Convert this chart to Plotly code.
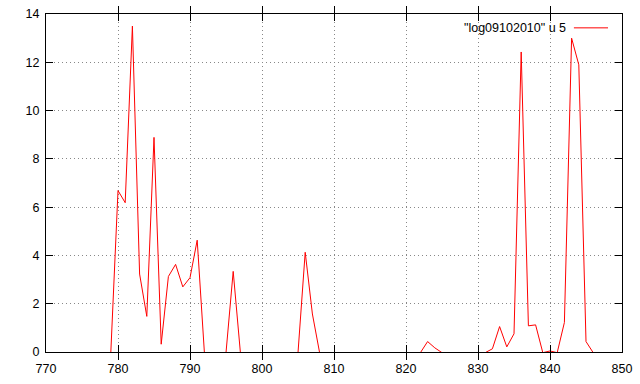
import plotly.graph_objects as go

x_values = list(range(770, 851))
nonzero = {
    779: 0.0, 780: 6.7, 781: 6.2, 782: 13.5, 783: 3.25, 784: 1.5, 785: 8.9,
    786: 0.35, 787: 3.15, 788: 3.65, 789: 2.72, 790: 3.1, 791: 4.65, 792: 0.0,
    795: 0.0, 796: 3.36, 797: 0.0,
    805: 0.0, 806: 4.15, 807: 1.6, 808: 0.0,
    822: 0.0, 823: 0.46, 824: 0.2, 825: 0.0,
    831: 0.0, 832: 0.16, 833: 1.08, 834: 0.24, 835: 0.78, 836: 12.43,
    837: 1.11, 838: 1.15, 839: 0.0, 840: 0.07, 841: 0.0, 842: 1.25,
    843: 13.0, 844: 11.9, 845: 0.46, 846: 0.0,
}
y_values = [nonzero.get(v, 0.0) for v in x_values]
series_name = '"log09102010" u 5'
x_ticks = list(range(770, 851, 10))
y_ticks = list(range(0, 15, 2))

font = dict(family="Liberation Sans, Arial, sans-serif", size=12.5, color="black")

fig = go.Figure()
# empty trace keeps the main (visible) axes alive
fig.add_trace(go.Scatter(x=[None], y=[None], mode="lines", showlegend=False,
                         hoverinfo="skip"))
# data drawn on an invisible overlay axis shifted by half a pixel so the zero
# baseline sits under the black border (as in gnuplot)
fig.add_trace(go.Scatter(x=x_values, y=y_values, mode="lines", yaxis="y2",
                         line=dict(color="#ff0000", width=1),
                         name=series_name, showlegend=False, hoverinfo="skip"))

axis_common = dict(showline=True, linecolor="black", linewidth=1, mirror="allticks",
                   ticks="inside", ticklen=7, tickcolor="black", tickwidth=1,
                   showgrid=True, gridcolor="#888888", griddash="1px,3px", gridwidth=1,
                   zeroline=False, tickfont=font, layer="above traces", automargin=False)

fig.update_xaxes(range=[770, 850], tickvals=x_ticks, ticklabelstandoff=5, **axis_common)
fig.update_yaxes(range=[0, 14], tickvals=y_ticks, ticklabelstandoff=3, **axis_common)
fig.update_layout(yaxis2=dict(overlaying="y", range=[0.028, 14], visible=False,
                              showgrid=False, zeroline=False))

# legend (gnuplot style: text left, sample right)
fig.add_annotation(xref="paper", yref="paper", x=0.9061, y=0.959, text=series_name,
                   showarrow=False, xanchor="right", yanchor="middle", font=font)
fig.add_shape(type="line", xref="paper", yref="paper", x0=0.9165, x1=0.9757,
              y0=0.959, y1=0.959, line=dict(color="#ff0000", width=1))

fig.update_layout(width=640, height=384, margin=dict(l=46, r=17.5, t=14, b=32),
                  paper_bgcolor="white", plot_bgcolor="white", font=font,
                  showlegend=False, hovermode=False)

fig.write_html("out.html", config={"displayModeBar": False})
